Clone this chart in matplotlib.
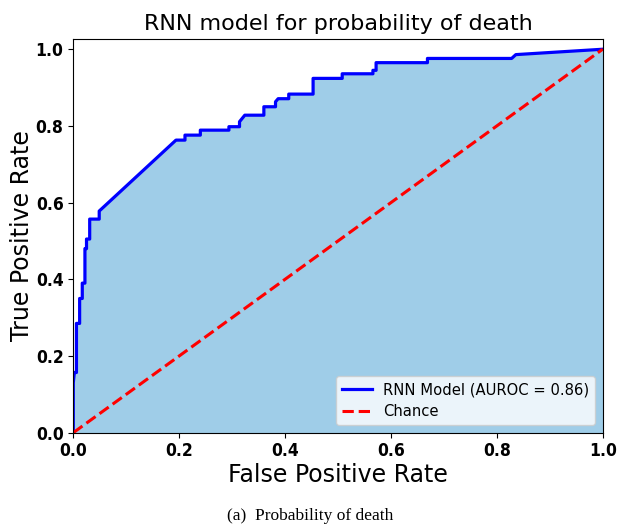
import matplotlib
matplotlib.use("Agg")
import matplotlib.pyplot as plt

# ROC points
fpr = [0.0, 0.0, 0.002, 0.006, 0.006, 0.012, 0.012, 0.017, 0.017, 0.022, 0.022,
       0.025, 0.025, 0.031, 0.031, 0.049, 0.049, 0.194, 0.211, 0.211, 0.240,
       0.240, 0.294, 0.294, 0.314, 0.314, 0.324, 0.360, 0.360, 0.382, 0.382,
       0.387, 0.407, 0.407, 0.453, 0.453, 0.508, 0.508, 0.566, 0.566, 0.572,
       0.572, 0.669, 0.669, 0.828, 0.836, 1.0]
tpr = [0.0, 0.13, 0.157, 0.157, 0.285, 0.285, 0.35, 0.35, 0.39, 0.39, 0.48,
       0.48, 0.505, 0.505, 0.557, 0.557, 0.578, 0.763, 0.763, 0.776, 0.776,
       0.789, 0.789, 0.798, 0.798, 0.811, 0.828, 0.828, 0.850, 0.850, 0.863,
       0.871, 0.871, 0.883, 0.883, 0.924, 0.924, 0.936, 0.936, 0.945, 0.945,
       0.965, 0.965, 0.976, 0.976, 0.986, 1.0]
auroc = 0.86

fig = plt.figure(figsize=(6.21, 5.26), dpi=100)
ax = fig.add_axes([0.118, 0.1774, 0.8525, 0.7494])

ax.fill_between(fpr, tpr, color="#9fcde8")
ax.plot(fpr, tpr, color="blue", lw=2.3, label="RNN Model (AUROC = %.2f)" % auroc)
ax.plot([0, 1], [0, 1], color="red", lw=2.2, ls="--", label="Chance")

ax.set_xlim(0, 1)
ax.set_ylim(0, 1.028)
ax.set_title("RNN model for probability of death", fontsize=16)
ax.set_xlabel("False Positive Rate", fontsize=17, labelpad=2)
ax.set_ylabel("True Positive Rate", fontsize=17, labelpad=1)
for lab in ax.get_xticklabels() + ax.get_yticklabels():
    lab.set_fontweight("bold")
    lab.set_fontsize(12.5)
    lab.set_fontstretch("condensed")
ax.legend(loc="lower right", fontsize=10.6)

fig.text(0.5, 0.012, "(a)  Probability of death", ha="center", fontsize=12.5,
         family="Liberation Serif")

fig.savefig("out.png", dpi=100)
